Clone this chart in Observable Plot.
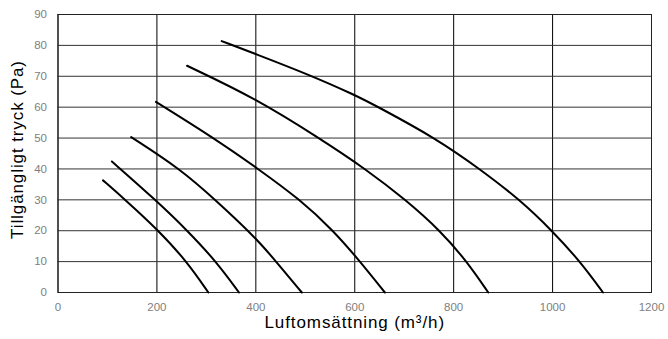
<!DOCTYPE html>
<html>
<head>
<meta charset="utf-8">
<script src="https://cdn.jsdelivr.net/npm/d3@7"></script>
<script src="https://cdn.jsdelivr.net/npm/@observablehq/plot@0.6"></script>
<style>
  html, body { margin: 0; padding: 0; background: #fff; }
  #chart { width: 668px; height: 339px; }
</style>
</head>
<body>
<div id="chart"></div>
<script>
const xTicks = [0, 200, 400, 600, 800, 1000, 1200];
const yTicks = [0, 10, 20, 30, 40, 50, 60, 70, 80, 90];

const curve1 = [[91, 36.3], [136, 30], [200, 20.6], [261, 10], [304, 0]];
const curve2 = [[109, 42.4], [197, 30], [262, 20], [320, 10], [366, 0]];
const curve3 = [[148, 50.3], [247, 40], [318, 30], [400, 17.7], [441, 10], [493, 0]];
const curve4 = [[198, 61.7], [315, 50], [405, 40], [490, 30], [557, 20], [611, 10], [661, 0]];
const curve5 = [[261, 73.4], [400, 62.8], [528, 50], [622, 40], [703, 30], [773, 20], [827, 10], [870, 0]];
const curve6 = [[331, 81.4], [400, 77.2], [500, 71], [600, 64], [648, 60], [763, 50], [853, 40], [934, 30], [999, 20], [1056, 10], [1102, 0]];

const curves = [curve1, curve2, curve3, curve4, curve5, curve6];
const data = curves.flatMap((c, i) => c.map(([x, y]) => ({x, y, curve: i})));

const xTitle = "Luftomsättning (m³/h)";
const yTitle = "Tillgängligt tryck (Pa)";

const chart = Plot.plot({
  width: 668,
  height: 339,
  marginLeft: 57.5,
  marginRight: 17,
  marginTop: 14,
  marginBottom: 47,
  style: {fontFamily: "'Liberation Sans', Arial, sans-serif", background: "#fff"},
  x: {domain: [0, 1200]},
  y: {domain: [0, 90]},
  marks: [
    Plot.gridX(xTicks, {stroke: "#000", strokeOpacity: 1, strokeWidth: 1}),
    Plot.gridY(yTicks, {stroke: "#333", strokeOpacity: 1, strokeWidth: 1}),
    Plot.frame({stroke: "#222", strokeWidth: 1}),
    Plot.axisX(xTicks, {tickSize: 0, tickPadding: 10, fontSize: 11.5, fill: "#808080", label: null, tickFormat: d => String(d)}),
    Plot.axisY(yTicks, {tickSize: 0, tickPadding: 11, fontSize: 11.5, fill: "#808080", label: null, tickFormat: d => String(d)}),
    Plot.line(data, {x: "x", y: "y", z: "curve", curve: "basis", stroke: "#000", strokeWidth: 2}),
    Plot.text([xTitle], {text: d => d, frameAnchor: "bottom", dy: 35, fontSize: 17, fill: "#000"}),
    Plot.text([yTitle], {text: d => d, frameAnchor: "left", textAnchor: "middle", dx: -40, dy: -4, rotate: -90, fontSize: 17, fill: "#000"})
  ]
});
d3.select(chart).selectAll("text").filter(function () {
  const t = this.textContent;
  return t === xTitle || t === yTitle;
}).attr("letter-spacing", "0.9px");
document.getElementById("chart").appendChild(chart);
</script>
</body>
</html>
